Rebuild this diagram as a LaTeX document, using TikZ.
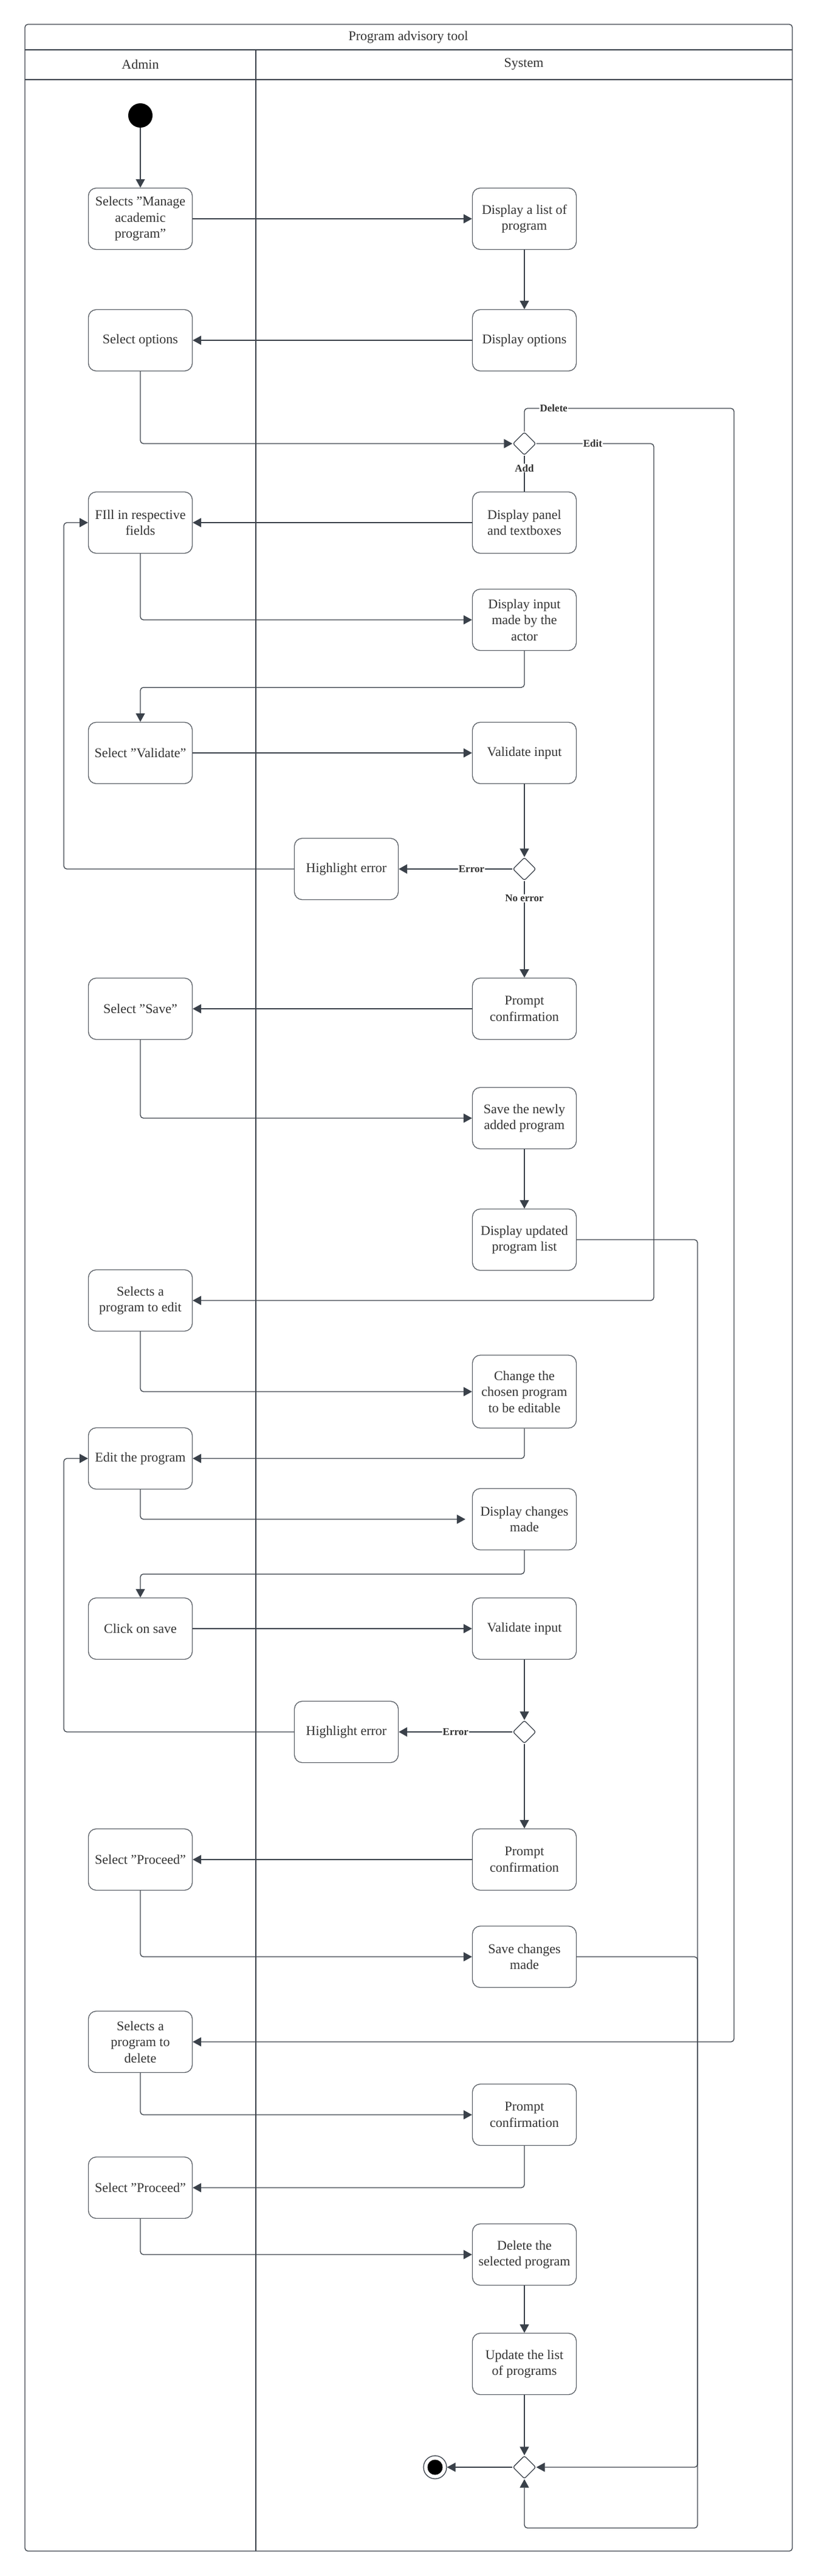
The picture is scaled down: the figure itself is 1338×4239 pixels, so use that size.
\documentclass[tikz,border=0pt]{standalone}
\usepackage{fontspec}
\setmainfont{Liberation Serif}
\usetikzlibrary{arrows.meta,shapes.geometric,calc}
\definecolor{linec}{HTML}{3A414A}
\definecolor{boxc}{HTML}{5A5F66}
\definecolor{txtc}{HTML}{333333}
\begin{document}
\begin{tikzpicture}[x=1pt,y=-1pt,
 act/.style={draw=boxc,line width=1.3pt,rounded corners=13pt,minimum width=171pt,minimum height=101pt,inner sep=2pt,align=center,text=txtc,font=\fontsize{22}{26.5}\selectfont},
 tall/.style={act,minimum height=120pt},
 dec/.style={diamond,draw=linec,line width=1.3pt,minimum width=38pt,minimum height=38pt,inner sep=0pt,rounded corners=3pt},
 flow/.style={draw=linec,line width=1.3pt,rounded corners=5pt,-{Triangle[length=14pt,width=15pt]}},
 thickflow/.style={flow,line width=2.6pt},
 plainline/.style={draw=linec,line width=2.6pt},
 lbl/.style={fill=white,inner sep=1pt,text=txtc,font=\bfseries\fontsize{17}{20}\selectfont},
 hdr/.style={text=txtc,font=\fontsize{22}{26.5}\selectfont},
 frame/.style={draw=linec,line width=1.3pt}
]
\useasboundingbox (0,0) rectangle (1338,4239);
% swimlane frame
\draw[frame,rounded corners=5pt] (41,40) rectangle (1304,4198);
\draw[frame] (41,82) -- (1304,82);
\draw[frame] (41,131) -- (1304,131);
\draw[frame] (421,82) -- (421,4198);
\node[hdr] (title) at (672,61) {Program advisory tool};
\node[hdr] (admin) at (231,106) {Admin};
\node[hdr] (system) at (862,106) {System};

% helper coordinates for routing
\coordinate (lL) at (105,0);
\coordinate (eR) at (1076,0);
\coordinate (uR) at (1148,0);
\coordinate (dR) at (1208,0);
\coordinate (delY) at (0,672);
\coordinate (botY) at (0,4160);

% nodes
\node[circle,fill=black,minimum size=40pt,inner sep=0pt] (start) at (231,190) {};
\node[act] (A1) at (231,360) {Selects "Manage\\academic\\program"};
\node[act] (S1) at (863,360) {Display a list of\\program};
\node[act] (S2) at (863,560) {Display options};
\node[act] (A2) at (231,560) {Select options};
\node[dec] (D1) at (863,730) {};
\node[act] (S3) at (863,860) {Display panel\\and textboxes};
\node[act] (A3) at (231,860) {FIll in respective\\fields};
\node[act] (S4) at (863,1020) {Display input\\made by the\\actor};
\node[act] (A4) at (231,1239) {Select "Validate"};
\node[act] (S5) at (863,1239) {Validate input};
\node[dec] (D2) at (863,1430) {};
\node[act] (H1) at (570,1430) {Highlight error};
\node[act] (S6) at (863,1660) {Prompt\\confirmation};
\node[act] (A5) at (231,1660) {Select "Save"};
\node[act] (S7) at (863,1840) {Save the newly\\added program};
\node[act] (S8) at (863,2040) {Display updated\\program list};
\node[act] (A6) at (231,2140) {Selects a\\program to edit};
\node[tall] (S9) at (863,2290) {Change the\\chosen program\\to be editable};
\node[act] (A7) at (231,2400) {Edit the program};
\node[act] (S10) at (863,2500) {Display changes\\made};
\node[act] (A8) at (231,2680) {Click on save};
\node[act] (S11) at (863,2680) {Validate input};
\node[dec] (D3) at (863,2850) {};
\node[act] (H2) at (570,2850) {Highlight error};
\node[act] (S12) at (863,3060) {Prompt\\confirmation};
\node[act] (A9) at (231,3060) {Select "Proceed"};
\node[act] (S13) at (863,3220) {Save changes\\made};
\node[act] (A10) at (231,3360) {Selects a\\program to\\delete};
\node[act] (S14) at (863,3480) {Prompt\\confirmation};
\node[act] (A11) at (231,3600) {Select "Proceed"};
\node[act] (S15) at (863,3710) {Delete the\\selected program};
\node[act] (S16) at (863,3890) {Update the list\\of programs};
\node[dec] (D4) at (863,4060) {};
\node[circle,draw=linec,line width=1.3pt,minimum size=38pt,inner sep=0pt] (end) at (716,4060) {};
\node[circle,fill=black,minimum size=25pt,inner sep=0pt] (endc) at (end) {};

% connectors
\draw[flow] (start) -- (A1);
\draw[flow] (A1.east) -- (S1.west);
\draw[flow] (S1) -- (S2);
\draw[flow] (S2.west) -- (A2.east);
\draw[flow] (A2.south) |- (D1.west);
\draw[flow] (D1.north) -- (D1.north |- delY) -- node[lbl,pos=0.14] {Delete} (dR |- delY) |- (A10.east);
\draw[flow] (D1.east) -- node[lbl,pos=0.48] {Edit} (D1.east -| eR) |- (A6.east);
\draw[plainline] (D1.south) -- node[lbl,pos=0.35] {Add} (S3.north);
\draw[flow] (S3.west) -- (A3.east);
\draw[flow] (A3.south) |- (S4.west);
\draw[flow] (S4.south) -- ($(S4.south)+(0,60)$) -| (A4.north);
\draw[flow] (A4.east) -- (S5.west);
\draw[flow] (S5) -- (D2);
\draw[thickflow] (D2.west) -- node[lbl,pos=0.36] {Error} (H1.east);
\draw[flow] (H1.west) -| (lL |- A3.west) -- (A3.west);
\draw[thickflow] (D2.south) -- node[lbl,pos=0.18] {No error} (S6.north);
\draw[flow] (S6.west) -- (A5.east);
\draw[flow] (A5.south) |- (S7.west);
\draw[flow] (S7) -- (S8);
\draw[flow] (S8.east) -| (uR |- botY) -| (D4.south);
\draw[flow] (A6.south) |- (S9.west);
\draw[flow] (S9.south) |- (A7.east);
\draw[flow,shorten >=11pt] (A7.south) |- (S10.west);
\draw[flow] (S10.south) -- ($(S10.south)+(0,39)$) -| (A8.north);
\draw[flow] (A8.east) -- (S11.west);
\draw[flow] (S11) -- (D3);
\draw[thickflow] (D3.west) -- node[lbl,pos=0.5] {Error} (H2.east);
\draw[flow] (H2.west) -| (lL |- A7.west) -- (A7.west);
\draw[flow] (D3) -- (S12);
\draw[flow] (S12.west) -- (A9.east);
\draw[flow] (A9.south) |- (S13.west);
\draw[flow] (S13.east) -| (uR |- D4.east) -- (D4.east);
\draw[flow] (A10.south) |- (S14.west);
\draw[flow] (S14.south) |- (A11.east);
\draw[flow] (A11.south) |- (S15.west);
\draw[flow] (S15) -- (S16);
\draw[flow] (S16) -- (D4);
\draw[flow] (D4.west) -- (end);
\end{tikzpicture}
\end{document}
